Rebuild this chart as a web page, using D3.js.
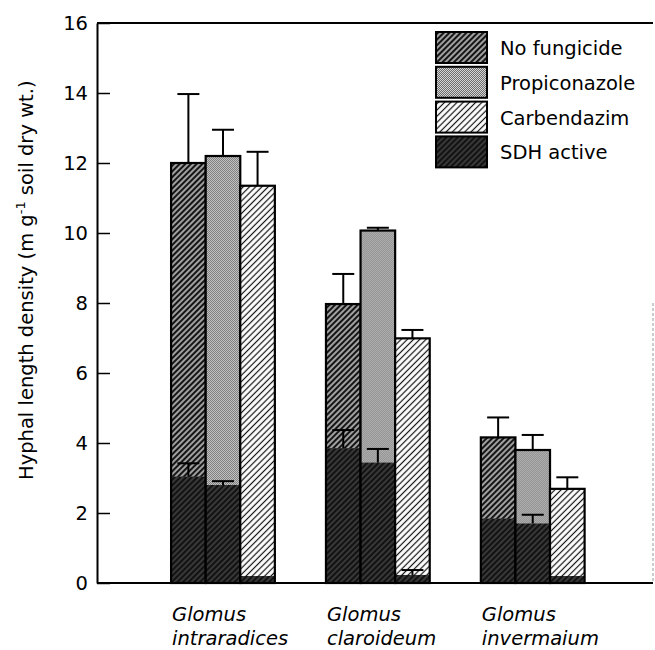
<!DOCTYPE html>
<html>
<head>
<meta charset="utf-8">
<script src="https://cdn.jsdelivr.net/npm/d3@7"></script>
<style>
  body { margin: 0; background: #fff; }
  svg { display: block; }
</style>
</head>
<body>
<div id="chart"></div>
<script>
// data
const genus = ["Glomus", "Glomus", "Glomus"];
const epithet = ["intraradices", "claroideum", "invermaium"];
const species = ["intraradices", "claroideum", "invermaium"];
const treatments = ["No fungicide", "Propiconazole", "Carbendazim"];
const legendLabels = ["No fungicide", "Propiconazole", "Carbendazim", "SDH active"];

// total hyphal length + error
const noFungicide = [12.0, 7.97, 4.16];
const propiconazole = [12.2, 10.07, 3.8];
const carbendazim = [11.35, 6.99, 2.69];
const noFungicideSE = [1.97, 0.86, 0.57];
const propiconazoleSE = [0.75, 0.08, 0.43];
const carbendazimSE = [0.97, 0.24, 0.33];

// SDH active part + error
const sdhNoFungicide = [3.04, 3.85, 1.84];
const sdhPropiconazole = [2.8, 3.44, 1.7];
const sdhCarbendazim = [0.2, 0.23, 0.2];
const sdhNoFungicideSE = [0.38, 0.52, 0];
const sdhPropiconazoleSE = [0.11, 0.39, 0.25];
const sdhCarbendazimSE = [0, 0.14, 0];

const yTicks = [0, 2, 4, 6, 8, 10, 12, 14, 16];

const totals = [noFungicide, propiconazole, carbendazim];
const totalsSE = [noFungicideSE, propiconazoleSE, carbendazimSE];
const sdh = [sdhNoFungicide, sdhPropiconazole, sdhCarbendazim];
const sdhSE = [sdhNoFungicideSE, sdhPropiconazoleSE, sdhCarbendazimSE];
const patternIds = ["pNoFung", "pPropi", "pCarb", "pSdh"];

const width = 655, height = 650;
const margin = { top: 23, right: 1, bottom: 67, left: 97 };

const svg = d3.select("#chart").append("svg")
  .attr("width", width)
  .attr("height", height);

// fill patterns (print-style hatching)
const defs = svg.append("defs");

function hatch(id, size, bg, line, lw) {
  const p = defs.append("pattern")
    .attr("id", id)
    .attr("patternUnits", "userSpaceOnUse")
    .attr("width", size).attr("height", size)
    .attr("patternTransform", "rotate(45)");
  p.append("rect").attr("width", size).attr("height", size).attr("fill", bg);
  p.append("line")
    .attr("x1", size / 2).attr("y1", 0)
    .attr("x2", size / 2).attr("y2", size)
    .attr("stroke", line).attr("stroke-width", lw);
  return p;
}

hatch("pNoFung", 4, "#a0a0a0", "#151515", 2);
hatch("pCarb", 4.4, "#ffffff", "#111", 1.2);
hatch("pSdh", 4, "#121212", "#5e5e5e", 1);

// fine stipple for propiconazole
const propi = defs.append("pattern")
  .attr("id", "pPropi")
  .attr("patternUnits", "userSpaceOnUse")
  .attr("width", 2).attr("height", 2);
propi.append("rect").attr("width", 2).attr("height", 2).attr("fill", "#f8f8f8");
propi.append("rect").attr("width", 1).attr("height", 1).attr("fill", "#4a4a4a");
propi.append("rect").attr("x", 1).attr("y", 1).attr("width", 1).attr("height", 1).attr("fill", "#4a4a4a");

// scales
const x0 = d3.scaleBand()
  .domain(species)
  .range([margin.left, width - margin.right - 1])
  .paddingInner(0.33)
  .paddingOuter(0.46)
  .align(0.52);

const x1 = d3.scaleBand()
  .domain(treatments)
  .range([0, x0.bandwidth()]);

const y = d3.scaleLinear()
  .domain([0, 16])
  .range([height - margin.bottom, margin.top]);

// frame: top and faint right edge
svg.append("line")
  .attr("x1", margin.left).attr("x2", width - margin.right - 1)
  .attr("y1", y(16)).attr("y2", y(16))
  .attr("stroke", "#000").attr("stroke-width", 2);
svg.append("line")
  .attr("x1", width - margin.right - 1).attr("x2", width - margin.right - 1)
  .attr("y1", y(8)).attr("y2", y(0))
  .attr("stroke", "#999").attr("stroke-width", 1)
  .attr("stroke-dasharray", "3,2");

// bars
const cells = [];
species.forEach((s, gi) => {
  treatments.forEach((t, ti) => {
    cells.push({
      s, t, ti,
      total: totals[ti][gi], se: totalsSE[ti][gi],
      sdh: sdh[ti][gi], sdhSe: sdhSE[ti][gi]
    });
  });
});

const bars = svg.append("g").selectAll("g")
  .data(cells)
  .enter().append("g")
  .attr("transform", d => `translate(${x0(d.s) + x1(d.t)},0)`);

bars.append("rect")
  .attr("y", d => y(d.total))
  .attr("width", x1.bandwidth())
  .attr("height", d => y(0) - y(d.total))
  .attr("fill", d => `url(#${patternIds[d.ti]})`);

bars.append("rect")
  .attr("y", d => y(d.sdh))
  .attr("width", x1.bandwidth())
  .attr("height", d => y(0) - y(d.sdh))
  .attr("fill", "url(#pSdh)");

bars.append("rect")
  .attr("y", d => y(d.total))
  .attr("width", x1.bandwidth())
  .attr("height", d => y(0) - y(d.total))
  .attr("fill", "none")
  .attr("stroke", "#000")
  .attr("stroke-width", 2.2);

// error bars (upper only)
const capW = 22;
function errBar(sel, base, top) {
  const g = sel.filter(d => top(d) > base(d));
  g.append("line")
    .attr("x1", x1.bandwidth() / 2).attr("x2", x1.bandwidth() / 2)
    .attr("y1", d => y(base(d))).attr("y2", d => y(top(d)))
    .attr("stroke", "#000").attr("stroke-width", 2);
  g.append("line")
    .attr("x1", x1.bandwidth() / 2 - capW / 2).attr("x2", x1.bandwidth() / 2 + capW / 2)
    .attr("y1", d => y(top(d))).attr("y2", d => y(top(d)))
    .attr("stroke", "#000").attr("stroke-width", 2);
}
errBar(bars, d => d.total, d => d.total + d.se);
errBar(bars, d => d.sdh, d => d.sdh + d.sdhSe);

// y axis, ticks pointing inward
const yAxis = svg.append("g")
  .attr("transform", `translate(${margin.left},0)`)
  .call(d3.axisLeft(y).tickValues(yTicks).tickSizeInner(-13).tickSizeOuter(0).tickPadding(9));
yAxis.select(".domain").attr("stroke-width", 2);
yAxis.selectAll(".tick line").attr("stroke-width", 1.5);
yAxis.selectAll(".tick text")
  .style("font-family", "'DejaVu Sans', sans-serif")
  .style("font-size", "19.5px")
  .attr("fill", "#000");

// baseline
svg.append("line")
  .attr("x1", margin.left).attr("x2", width - margin.right - 1)
  .attr("y1", y(0)).attr("y2", y(0))
  .attr("stroke", "#000").attr("stroke-width", 2);

// x labels (italic species names)
const xl = svg.append("g").selectAll("text")
  .data(species)
  .enter().append("text")
  .attr("x", d => x0(d) + 1)
  .attr("y", y(0) + 38)
  .style("font-family", "'DejaVu Sans', sans-serif")
  .style("font-style", "italic")
  .style("font-size", "19.5px")
  .attr("fill", "#000");
xl.append("tspan").text((d, i) => genus[i]);
xl.append("tspan")
  .attr("x", d => x0(d) + 1)
  .attr("dy", 24)
  .text((d, i) => epithet[i]);

// y label
const yl = svg.append("text")
  .attr("transform", `translate(33,${y(8.65)}) rotate(-90)`)
  .style("text-anchor", "middle")
  .style("font-family", "'DejaVu Sans', sans-serif")
  .style("font-size", "19.5px")
  .attr("fill", "#000");
yl.append("tspan").text("Hyphal length density (m g");
yl.append("tspan").attr("dy", -8).style("font-size", "13px").text("-1");
yl.append("tspan").attr("dy", 8).text(" soil dry wt.)");

// legend
const legendX = 436, legendY = 32, rowH = 34.8;
const lg = svg.append("g").selectAll("g")
  .data(legendLabels)
  .enter().append("g")
  .attr("transform", (d, i) => `translate(${legendX},${legendY + i * rowH})`);
lg.append("rect")
  .attr("width", 51).attr("height", 31)
  .attr("fill", (d, i) => `url(#${patternIds[i]})`)
  .attr("stroke", "#000").attr("stroke-width", 2);
lg.append("text")
  .attr("x", 64).attr("y", 23)
  .style("font-family", "'DejaVu Sans', sans-serif")
  .style("font-size", "19.5px")
  .attr("fill", "#000")
  .text(d => d);
</script>
</body>
</html>
